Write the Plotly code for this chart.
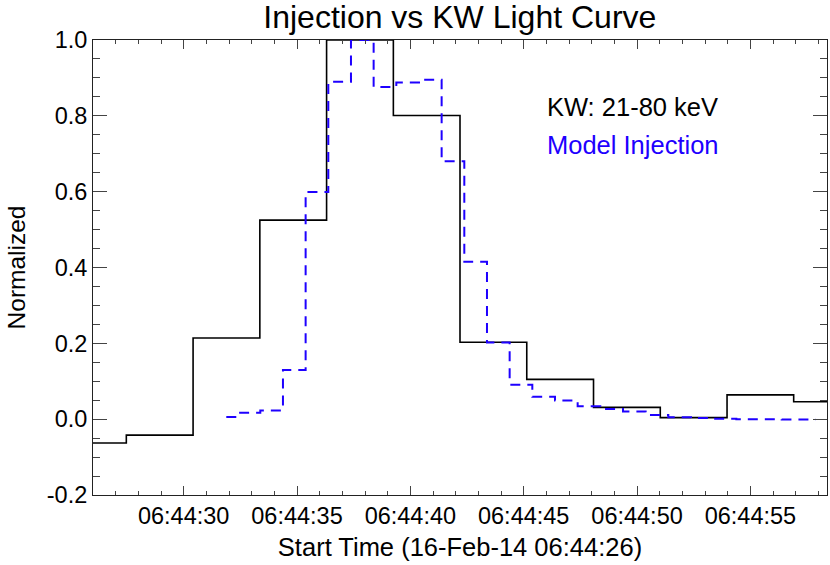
import pandas as pd
import plotly.graph_objects as go

# seconds after 06:44:00 on 16-Feb-14
kw_sec = [26.00, 28.94, 31.89, 34.83, 37.78, 40.72, 43.66, 46.61, 49.55, 52.50, 55.44, 58.38]
kw_norm = [-0.063, -0.042, 0.214, 0.525, 1.000, 0.801, 0.203, 0.105, 0.031, 0.004, 0.064, 0.046]

inj_sec = [31.88, 32.88, 33.88, 34.88, 35.88, 36.88, 37.88, 38.88, 39.88, 40.88,
           41.88, 42.88, 43.88, 44.88, 45.88, 46.88, 47.88, 48.88, 49.88, 50.88,
           51.88, 52.88, 53.88, 54.88, 55.88, 56.88, 57.88]
inj_norm = [0.006, 0.017, 0.023, 0.130, 0.599, 0.890, 1.000, 0.876, 0.888, 0.895,
            0.680, 0.415, 0.202, 0.091, 0.059, 0.049, 0.034, 0.027, 0.020, 0.011,
            0.005, 0.003, 0.001, 0.000, 0.000, -0.001, -0.001]

y_ticks = [-0.2, 0.0, 0.2, 0.4, 0.6, 0.8, 1.0]
y_labels = ["-0.2", "0.0", "0.2", "0.4", "0.6", "0.8", "1.0"]

t0 = pd.Timestamp("2014-02-16 06:44:00")
kw_t = t0 + pd.to_timedelta(kw_sec, unit="s")
inj_t = t0 + pd.to_timedelta(inj_sec, unit="s")

font = "Liberation Sans, Arial, sans-serif"
blue = "rgb(30,0,255)"

fig = go.Figure()
fig.add_trace(go.Scatter(x=kw_t, y=kw_norm, mode="lines", line_shape="hvh",
                         line=dict(color="black", width=1.6), name="KW: 21-80 keV"))
fig.add_trace(go.Scatter(x=inj_t, y=inj_norm, mode="lines", line_shape="hvh",
                         line=dict(color=blue, width=2, dash="10px,7px"),
                         name="Model Injection"))

fig.add_annotation(text="KW: 21-80 keV", xref="paper", yref="paper", x=0.616, y=0.853,
                   xanchor="left", yanchor="middle", showarrow=False,
                   font=dict(size=25.5, color="black", family=font))
fig.add_annotation(text="Model Injection", xref="paper", yref="paper", x=0.616, y=0.769,
                   xanchor="left", yanchor="middle", showarrow=False,
                   font=dict(size=25.5, color=blue, family=font))

fig.update_layout(
    width=830, height=565,
    margin=dict(l=93, r=3, t=40, b=70),
    plot_bgcolor="white", paper_bgcolor="white",
    showlegend=False,
    font=dict(family=font, size=23.5, color="black"),
    title=dict(text="Injection vs KW Light Curve", x=0.554, xanchor="center",
               y=0.97, yanchor="middle", yref="container", font=dict(size=32)),
)
fig.update_xaxes(
    type="date", automargin=False,
    range=[t0 + pd.Timedelta(seconds=26), t0 + pd.Timedelta(seconds=58.38)],
    tickformat="%H:%M:%S", tick0=t0 + pd.Timedelta(seconds=30), dtick=5000,
    ticks="inside", ticklen=9, tickcolor="#444", tickwidth=1,
    minor=dict(dtick=1000, ticks="inside", ticklen=4, tickcolor="#444"),
    showline=True, linecolor="#222", linewidth=1, mirror="ticks",
    showgrid=False, zeroline=False,
    title=dict(text="Start Time (16-Feb-14 06:44:26)", standoff=9, font=dict(size=25.5)),
)
fig.update_yaxes(
    automargin=False,
    range=[-0.2, 1.0], tickvals=y_ticks, ticktext=y_labels,
    ticks="inside", ticklen=14, tickcolor="#444", tickwidth=1,
    minor=dict(dtick=0.05, ticks="inside", ticklen=7, tickcolor="#444"),
    showline=True, linecolor="#222", linewidth=1, mirror="ticks",
    showgrid=False, zeroline=False,
    title=dict(text="Normalized", standoff=14, font=dict(size=24.5)),
)

# page body has a default 8px margin; drop it so the figure sits at the corner
fig.write_html("out.html", config={"displayModeBar": False},
               post_script="document.body.style.margin='0';")
